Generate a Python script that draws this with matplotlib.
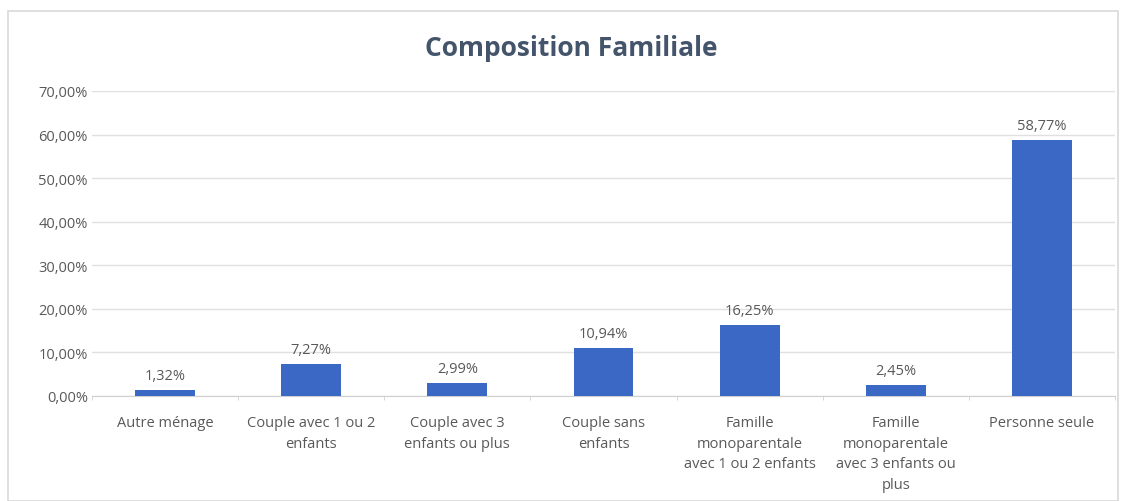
import matplotlib
matplotlib.use("Agg")
import matplotlib.pyplot as plt
import numpy as np
from matplotlib.patches import Rectangle

categories = ["Autre ménage", "Couple avec 1 ou 2\nenfants", "Couple avec 3\nenfants ou plus",
              "Couple sans\nenfants", "Famille\nmonoparentale\navec 1 ou 2 enfants",
              "Famille\nmonoparentale\navec 3 enfants ou\nplus", "Personne seule"]
values = [1.32, 7.27, 2.99, 10.94, 16.25, 2.45, 58.77]
value_labels = ["1,32%", "7,27%", "2,99%", "10,94%", "16,25%", "2,45%", "58,77%"]
yticks = [0, 10, 20, 30, 40, 50, 60, 70]
ytick_labels = ["0,00%", "10,00%", "20,00%", "30,00%", "40,00%", "50,00%", "60,00%", "70,00%"]
title = "Composition Familiale"

plt.rcParams['font.family'] = ['Open Sans', 'DejaVu Sans']
fig = plt.figure(figsize=(11.26, 5.02), dpi=100)
fig.patches.append(Rectangle((8/1126, 0), 1110/1126, 1 - 12/502, transform=fig.transFigure,
                             fill=False, edgecolor="#D9D9D9", linewidth=1.2))
ax = fig.add_axes([92/1126, 1 - 397/502, (1115 - 92)/1126, (397 - 92)/502])
x = np.arange(len(categories))
ax.bar(x, values, width=0.41, color="#3B67C5", zorder=3)
ax.set_ylim(0, 70)
ax.set_xlim(-0.5, len(categories) - 0.5)
ax.set_yticks(yticks)
ax.set_yticklabels(ytick_labels, color="#595959", fontsize=10.5)
ax.set_xticks(x)
ax.set_xticklabels(categories, color="#595959", fontsize=10.5, linespacing=1.5)
ax.tick_params(axis="x", length=0, pad=14)
ax.tick_params(axis="y", length=0, pad=3)
ax.set_xticks(np.arange(len(categories) + 1) - 0.5, minor=True)
ax.tick_params(axis="x", which="minor", length=3, color="#D0D0D0")
ax.grid(axis="y", color="#E0E0E0", linewidth=1, zorder=0)
for s in ["top", "right", "left"]:
    ax.spines[s].set_visible(False)
ax.spines["bottom"].set_color("#D0D0D0")
for xi, v, lab in zip(x, values, value_labels):
    ax.text(xi, v + 1.6, lab, ha="center", va="bottom", color="#595959", fontsize=10.5)
fig.text(571/1126, 1 - 48/502, title, ha="center", va="center", fontsize=19,
         fontweight="bold", color="#44546A")
fig.savefig("out.png", dpi=100)
